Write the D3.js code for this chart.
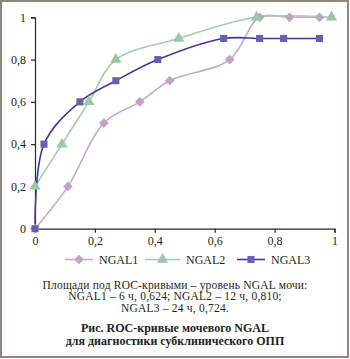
<!DOCTYPE html>
<html>
<head>
<meta charset="utf-8">
<script src="https://cdn.jsdelivr.net/npm/d3@7"></script>
<style>
  body { margin: 0; background: #fff; }
  svg text { font-family: "Liberation Serif", "DejaVu Serif", serif; fill: #231f1c; }
</style>
</head>
<body>
<div id="chart"></div>
<script>
// ROC-кривые NGAL
const xTicks = [0, 0.2, 0.4, 0.6, 0.8, 1];
const yTicks = [0, 0.2, 0.4, 0.6, 0.8, 1];

const ngal1 = [[0, 0], [0.11, 0.2], [0.23, 0.5], [0.35, 0.6], [0.45, 0.7], [0.65, 0.8], [0.75, 1], [0.85, 1], [0.95, 1]];
const ngal2 = [[0, 0.2], [0.09, 0.4], [0.18, 0.6], [0.27, 0.8], [0.48, 0.9], [0.74, 1], [0.99, 1]];
const ngal3 = [[0, 0], [0.03, 0.4], [0.15, 0.6], [0.27, 0.7], [0.41, 0.8], [0.63, 0.9], [0.75, 0.9], [0.83, 0.9], [0.95, 0.9]];

const seriesNames = ["NGAL1", "NGAL2", "NGAL3"];
const noteLines = [
  "Площади под ROC-кривыми – уровень NGAL мочи:",
  "NGAL1 – 6 ч, 0,624; NGAL2 – 12 ч, 0,810;",
  "NGAL3 – 24 ч, 0,724."
];
const captionLines = [
  "Рис. ROC-кривые мочевого NGAL",
  "для диагностики субклинического ОПП"
];

const W = 350, H = 359;
const svg = d3.select("#chart").append("svg")
  .attr("width", W).attr("height", H);

// рамка
svg.append("rect")
  .attr("x", 1).attr("y", 1)
  .attr("width", 347).attr("height", 356)
  .attr("fill", "none")
  .attr("stroke", "#8c877f")
  .attr("stroke-width", 2);

const x = d3.scaleLinear().domain([0, 1]).range([35, 334.5]);
const y = d3.scaleLinear().domain([0, 1]).range([228.7, 17.3]);

const fmt = d => d === 0 ? "0" : d === 1 ? "1" : d3.format(".1f")(d).replace(".", ",");

// оси
const gx = svg.append("g")
  .attr("transform", `translate(0,${y(0)})`)
  .call(d3.axisBottom(x).tickValues(xTicks).tickSize(4).tickPadding(4).tickFormat(fmt));
const gy = svg.append("g")
  .attr("transform", `translate(${x(0)},0)`)
  .call(d3.axisLeft(y).tickValues(yTicks).tickSize(4).tickPadding(5).tickFormat(fmt));

[gx, gy].forEach(g => {
  g.select(".domain").attr("stroke", "#2b2722").attr("stroke-width", 1.2);
  g.selectAll(".tick line").attr("stroke", "#2b2722").attr("stroke-width", 1.2);
  g.selectAll(".tick text").style("font-size", "12px")
    .style("font-family", "'Liberation Serif', serif").attr("fill", "#231f1c");
});

const color = {
  NGAL1: { line: "#c9abc9", marker: "#c3a3c3" },
  NGAL2: { line: "#a3cdaa", marker: "#9cc8a5" },
  NGAL3: { line: "#3d3a9c", marker: "#6660ae" }
};

const line = d3.line()
  .x(d => x(d[0]))
  .y(d => y(d[1]))
  .curve(d3.curveCatmullRom.alpha(0.5));

const dataSets = { NGAL1: ngal1, NGAL2: ngal2, NGAL3: ngal3 };
const symbolType = { NGAL1: d3.symbolDiamond2, NGAL2: d3.symbolTriangle, NGAL3: d3.symbolSquare };
const symbolSize = { NGAL1: 60, NGAL2: 55, NGAL3: 50 };

function drawMarker(g, name, cx, cy) {
  const s = symbolType[name];
  const path = d3.symbol().type(s).size(symbolSize[name]);
  g.append("path")
    .attr("d", path)
    .attr("transform", `translate(${cx},${cy})`)
    .attr("fill", color[name].marker);
}

seriesNames.forEach(name => {
  svg.append("path")
    .datum(dataSets[name])
    .attr("fill", "none")
    .attr("stroke", color[name].line)
    .attr("stroke-width", 1.6)
    .attr("d", line);
});
seriesNames.forEach(name => {
  const g = svg.append("g");
  dataSets[name].forEach(d => drawMarker(g, name, x(d[0]), y(d[1])));
});

// легенда
const legendX = [65, 145, 237];
const legend = svg.append("g").attr("transform", "translate(0,259.5)");
seriesNames.forEach((name, i) => {
  const lx = legendX[i];
  const len = i === 1 ? 35 : 28;
  legend.append("line")
    .attr("x1", lx).attr("x2", lx + len)
    .attr("stroke", color[name].line).attr("stroke-width", 1.6);
  drawMarker(legend, name, lx + len / 2, 0);
  legend.append("text")
    .attr("x", lx + len + 6).attr("y", 4)
    .style("font-size", "12px")
    .text(name);
});

// подписи
noteLines.forEach((t, i) => {
  svg.append("text")
    .attr("x", 175).attr("y", 288.5 + i * 11.8)
    .attr("text-anchor", "middle")
    .style("font-size", "11.5px")
    .style("letter-spacing", "0.2px")
    .text(t);
});
captionLines.forEach((t, i) => {
  svg.append("text")
    .attr("x", 175).attr("y", 332 + i * 12.7)
    .attr("text-anchor", "middle")
    .style("font-size", "12px")
    .style("font-weight", "bold")
    .text(t);
});
</script>
</body>
</html>
